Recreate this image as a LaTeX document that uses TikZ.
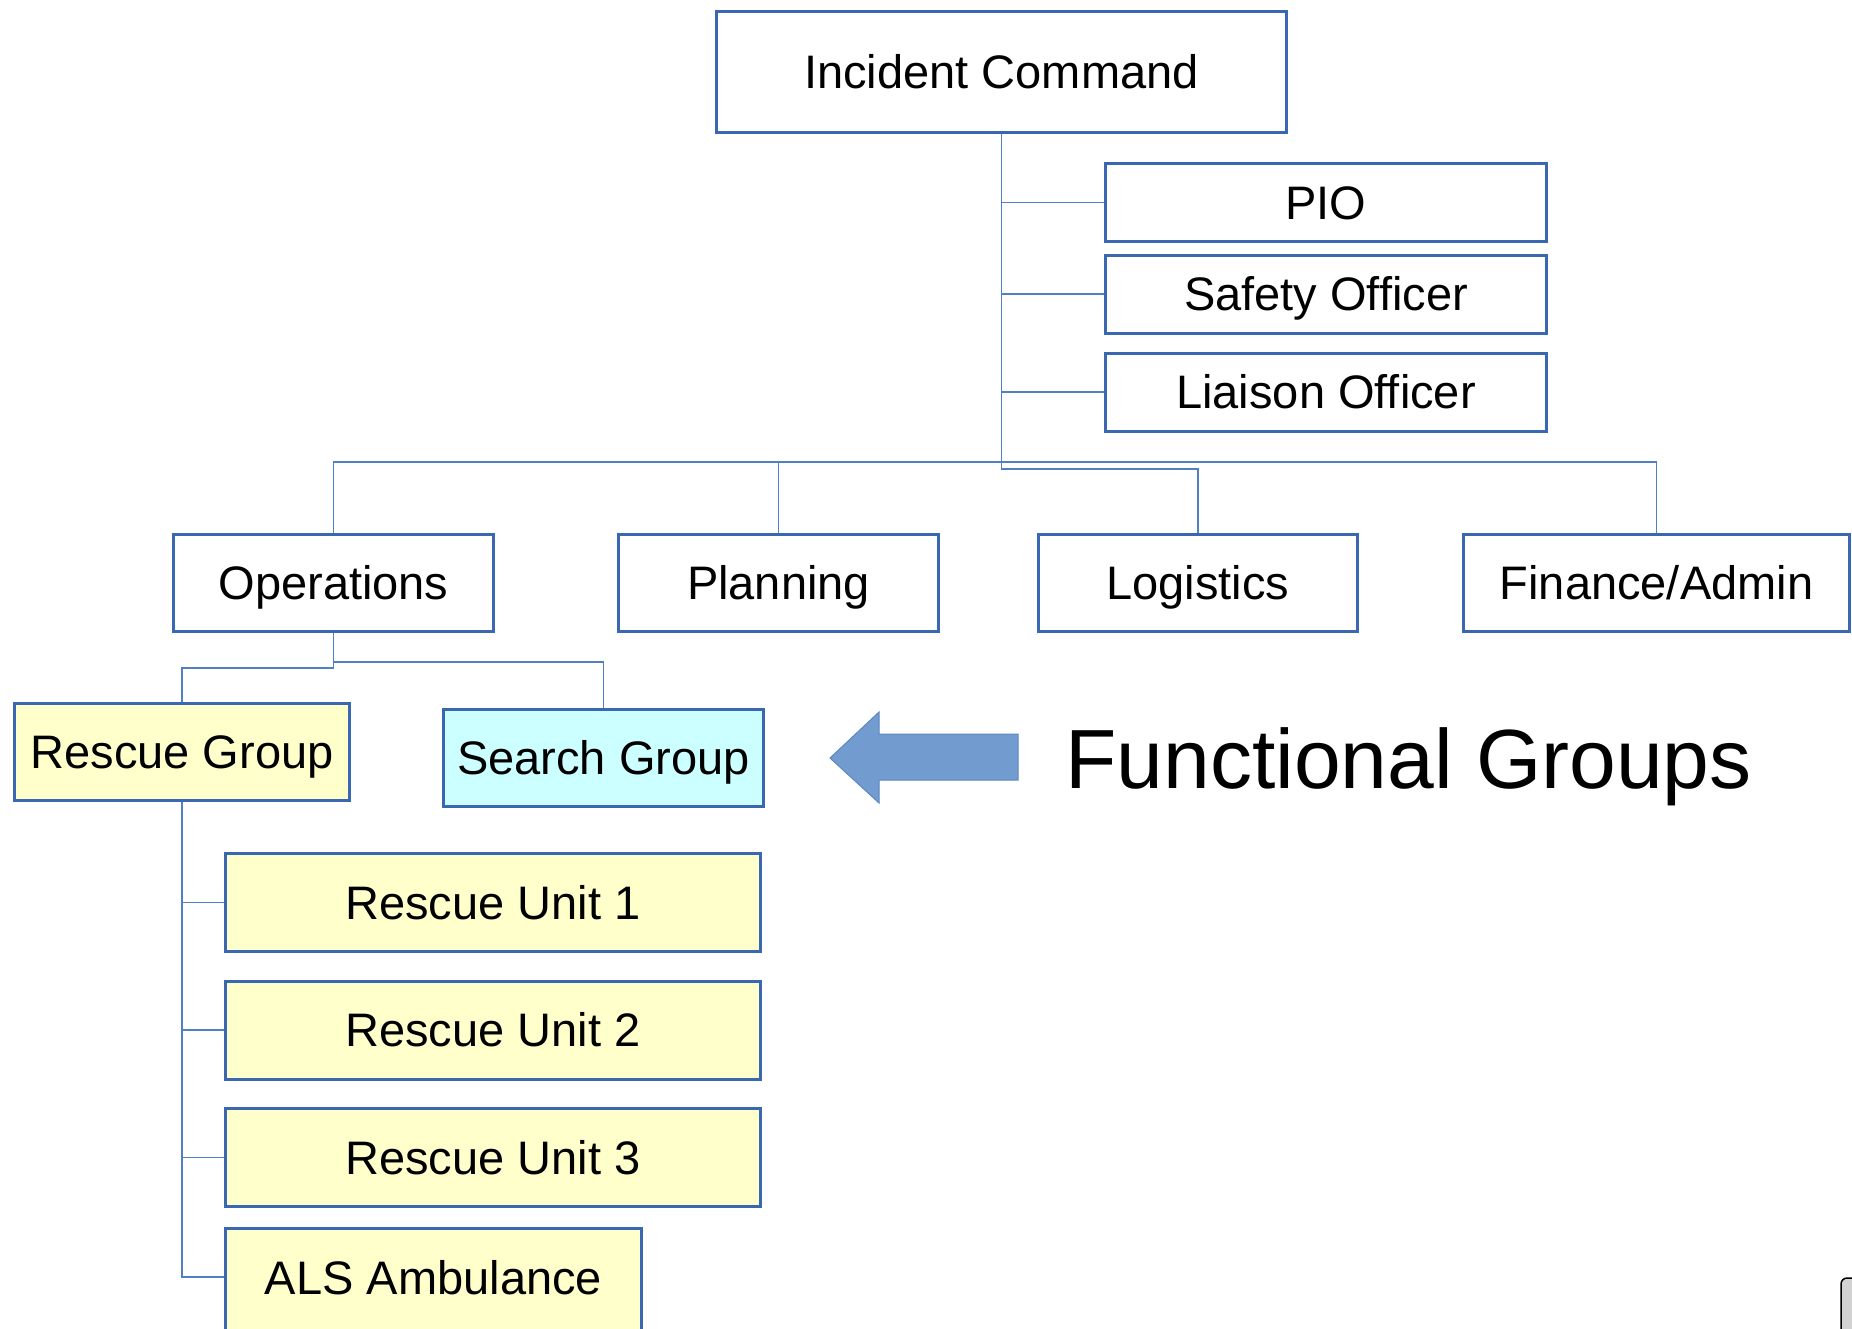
\documentclass[tikz,border=0pt]{standalone}
\usepackage{fontspec}
\setmainfont{Liberation Sans}
\definecolor{boxblue}{HTML}{3A68B0}
\definecolor{linkblue}{HTML}{4F7FC4}
\definecolor{paleyellow}{HTML}{FFFFCC}
\definecolor{palecyan}{HTML}{CCFFFF}
\definecolor{arrowfill}{HTML}{729CCF}
\definecolor{arrowedge}{HTML}{5B87C2}
\begin{document}
\begin{tikzpicture}[x=0.5pt,y=-0.5pt,
  orgbox/.style={draw=boxblue,line width=1.5pt,fill=white,inner sep=0pt,
    font=\fontsize{23.5pt}{28pt}\selectfont,text height=16.8pt,text depth=0pt,
    minimum height=#1*0.5pt},
  orgbox/.default=78,
  yellowbox/.style={orgbox=#1,fill=paleyellow},
  yellowbox/.default=98,
  conn/.style={draw=linkblue,line width=0.75pt}]
  \useasboundingbox (0,0) rectangle (1852,1328);
  \clip (0,0) rectangle (1852,1328);

  % command staff
  \node[orgbox=121,minimum width=570*0.5pt] (ic) at (1001.5,72) {Incident Command};
  \node[orgbox,minimum width=441*0.5pt] (pio) at (1326,202.5) {PIO};
  \node[orgbox,minimum width=441*0.5pt] (saf) at (1326,294) {Safety Officer};
  \node[orgbox,minimum width=441*0.5pt] (lia) at (1326,392) {Liaison Officer};

  % general staff sections
  \node[orgbox=97,minimum width=320*0.5pt] (ops) at (333.5,583) {Operations};
  \node[orgbox=97,minimum width=320*0.5pt] (plan) at (778.5,583) {Planning};
  \node[orgbox=97,minimum width=319*0.5pt] (log) at (1198,583) {Logistics};
  \node[orgbox=97,minimum width=386*0.5pt] (fin) at (1656.5,583) {Finance/Admin};

  % operations groups
  \node[yellowbox=97,minimum width=335*0.5pt] (rg) at (182,752) {Rescue Group};
  \node[orgbox=97,fill=palecyan,minimum width=320*0.5pt] (srch) at (603.5,758) {Search Group};

  % rescue group resources
  \node[yellowbox,minimum width=535*0.5pt] (ru1) at (493,902.5) {Rescue Unit 1};
  \node[yellowbox,minimum width=535*0.5pt] (ru2) at (493,1030) {Rescue Unit 2};
  \node[yellowbox,minimum width=535*0.5pt] (ru3) at (493,1157.5) {Rescue Unit 3};
  \node[yellowbox=120,minimum width=416*0.5pt,text depth=10.5pt] (als) at (433.5,1288) {ALS Ambulance};

  % connectors: command staff
  \coordinate (bus) at (1002,462);
  \draw[conn] (ic.south) -- (ic.south |- bus);
  \draw[conn] (ic.south |- pio.west) -- (pio.west);
  \draw[conn] (ic.south |- saf.west) -- (saf.west);
  \draw[conn] (ic.south |- lia.west) -- (lia.west);

  % connectors: sections
  \draw[conn] (ops.north) |- (fin.north |- bus) -- (fin.north);
  \draw[conn] (plan.north) -- (plan.north |- bus);
  \draw[conn] (ic.south |- bus) -- ++(0,7) -| (log.north);

  % connectors: operations groups
  \draw[conn] (ops.south) -- ++(0,29) -| (srch.north);
  \draw[conn] (ops.south) ++(0,29) -- ++(0,6) -| (rg.north);

  % connectors: rescue resources
  \coordinate (alsjoin) at (als.west |- 0,1277);
  \draw[conn] (rg.south) |- (alsjoin);
  \draw[conn] (rg.south |- ru1.west) -- (ru1.west);
  \draw[conn] (rg.south |- ru2.west) -- (ru2.west);
  \draw[conn] (rg.south |- ru3.west) -- (ru3.west);

  % callout arrow and caption
  \draw[fill=arrowfill,draw=arrowedge,line width=0.5pt]
    (830,758) -- (879,712) -- (879,734) -- (1018,734) -- (1018,780)
    -- (879,780) -- (879,803) -- cycle;
  \node[anchor=base west,inner sep=0pt,font=\fontsize{42pt}{50pt}\selectfont]
    (fg) at (1065,788) {Functional Groups};

  % corner tab
  \draw[fill=gray!35,draw=black,line width=0.75pt,rounded corners=3pt]
    (1841,1278) rectangle (1870,1345);
\end{tikzpicture}
\end{document}
